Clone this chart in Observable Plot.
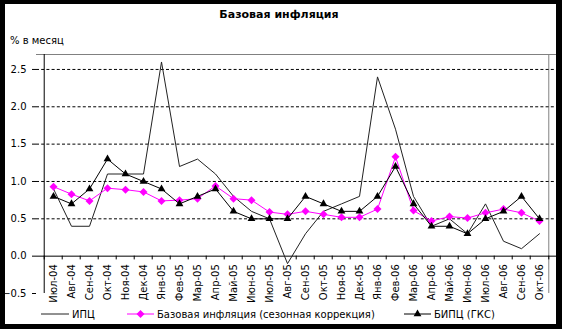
<!DOCTYPE html>
<html>
<head>
<meta charset="utf-8">
<script src="https://cdn.jsdelivr.net/npm/d3@7"></script>
<script src="https://cdn.jsdelivr.net/npm/@observablehq/plot@0.6"></script>
<style>
  html, body { margin: 0; padding: 0; background: #000; }
  #wrap { position: relative; width: 562px; height: 329px; background: #000; overflow: hidden; }
  #paper { position: absolute; left: 5px; top: 4px; width: 551px; height: 320px; background: #fff; }
  #chart, #overlay { position: absolute; left: 0; top: 0; }
  #overlay { pointer-events: none; }
</style>
</head>
<body>
<div id="wrap">
  <div id="paper"></div>
  <div id="chart"></div>
  <svg id="overlay" width="562" height="329"></svg>
</div>
<script>
// ---- data ----
const months = ["Июл-04","Авг-04","Сен-04","Окт-04","Ноя-04","Дек-04","Янв-05","Фев-05","Мар-05","Апр-05","Май-05","Июн-05","Июл-05","Авг-05","Сен-05","Окт-05","Ноя-05","Дек-05","Янв-06","Фев-06","Мар-06","Апр-06","Май-06","Июн-06","Июл-06","Авг-06","Сен-06","Окт-06"];
const ipc  = [0.9,0.4,0.4,1.1,1.1,1.1,2.6,1.2,1.3,1.1,0.8,0.6,0.5,-0.1,0.3,0.6,0.7,0.8,2.4,1.7,0.8,0.4,0.5,0.3,0.7,0.2,0.1,0.3];
const base = [0.93,0.83,0.74,0.91,0.89,0.86,0.74,0.75,0.77,0.94,0.77,0.75,0.59,0.56,0.60,0.56,0.52,0.52,0.63,1.33,0.61,0.47,0.53,0.51,0.58,0.63,0.58,0.47];
const bipc = [0.8,0.7,0.9,1.3,1.1,1.0,0.9,0.7,0.8,0.9,0.6,0.5,0.5,0.5,0.8,0.7,0.6,0.6,0.8,1.2,0.7,0.4,0.4,0.3,0.5,0.6,0.8,0.5];
const yTicks = [-0.5, 0, 0.5, 1.0, 1.5, 2.0, 2.5];
const gridValues = [0.5, 1.0, 1.5, 2.0, 2.5];
const yMax = 2.7;
const seriesNames = ["ИПЦ", "Базовая инфляция (сезонная коррекция)", "БИПЦ (ГКС)"];
const titleText = "Базовая инфляция";
const unitText = "% в месяц";

const rows = months.map((m, i) => ({m, ipc: ipc[i], base: base[i], bipc: bipc[i]}));

const W = 562, H = 329;
const mL = 36, mR = 6, mT = 54, mB = 36;
const step = (W - mL - mR) / months.length;
const FONT = "DejaVu Sans";
const diamond = d3.symbolDiamond2 || d3.symbolDiamond;

const plot = Plot.plot({
  width: W, height: H,
  marginLeft: mL, marginRight: mR, marginTop: mT, marginBottom: mB,
  style: {background: "transparent", fontFamily: FONT, fontSize: "10px", color: "black"},
  x: {type: "point", domain: months, padding: 0.5, axis: null},
  y: {domain: [-0.5, yMax], ticks: yTicks, tickSize: 4, tickPadding: 6, tickFormat: d3.format(".1f"), label: null},
  marks: [
    Plot.ruleY([yMax], {stroke: "#808080"}),
    Plot.ruleX([months[months.length - 1]], {x: d => d, dx: step / 2, stroke: "#808080"}),
    Plot.ruleY(gridValues, {stroke: "black", strokeDasharray: "3,2.2", strokeWidth: 1}),
    Plot.ruleY([0], {stroke: "black"}),
    Plot.ruleX([months[0]], {x: d => d, dx: -step / 2, stroke: "black"}),
    Plot.ruleX(months, {x: d => d, dx: -step / 2, y1: 0, y2: -0.05, stroke: "black"}),
    Plot.ruleX([months[months.length - 1]], {x: d => d, dx: step / 2, y1: 0, y2: -0.05, stroke: "black"}),
    Plot.text(months, {x: d => d, y: 0, text: d => d, rotate: -90, textAnchor: "end", dy: 8, fontSize: 10, fill: "black"}),
    Plot.line(rows, {x: "m", y: "ipc", stroke: "#222", strokeWidth: 1}),
    Plot.line(rows, {x: "m", y: "base", stroke: "#ff00ff", strokeWidth: 1}),
    Plot.dot(rows, {x: "m", y: "base", symbol: diamond, r: 3.6, fill: "#ff00ff", stroke: "none"}),
    Plot.line(rows, {x: "m", y: "bipc", stroke: "#000", strokeWidth: 1}),
    Plot.dot(rows, {x: "m", y: "bipc", symbol: "triangle", r: 2.9, fill: "#000", stroke: "none"})
  ]
});
document.getElementById("chart").appendChild(plot);

// ---- title, unit label and legend ----
const ov = d3.select("#overlay").style("font-family", FONT);
ov.append("text").attr("x", 279).attr("y", 18).attr("text-anchor", "middle")
  .attr("font-size", 11).attr("font-weight", "bold").text(titleText);
ov.append("text").attr("x", 10).attr("y", 44).attr("font-size", 10).text(unitText);

const ly = 314;
const legend = [
  {x0: 41, x1: 69, tx: 72, color: "#222", sym: null, name: seriesNames[0]},
  {x0: 127, x1: 154, tx: 157, color: "#ff00ff", sym: diamond, r: 3.6, name: seriesNames[1]},
  {x0: 404, x1: 431, tx: 434, color: "#000", sym: d3.symbolTriangle, r: 2.9, name: seriesNames[2]}
];
for (const it of legend) {
  ov.append("line").attr("x1", it.x0).attr("x2", it.x1).attr("y1", ly).attr("y2", ly)
    .attr("stroke", it.color).attr("stroke-width", 1);
  if (it.sym) {
    ov.append("path").attr("transform", `translate(${(it.x0 + it.x1) / 2},${ly})`)
      .attr("d", d3.symbol(it.sym, it.r * it.r * Math.PI)()).attr("fill", it.color);
  }
  ov.append("text").attr("x", it.tx).attr("y", ly + 3.5).attr("font-size", 10).text(it.name);
}
</script>
</body>
</html>
